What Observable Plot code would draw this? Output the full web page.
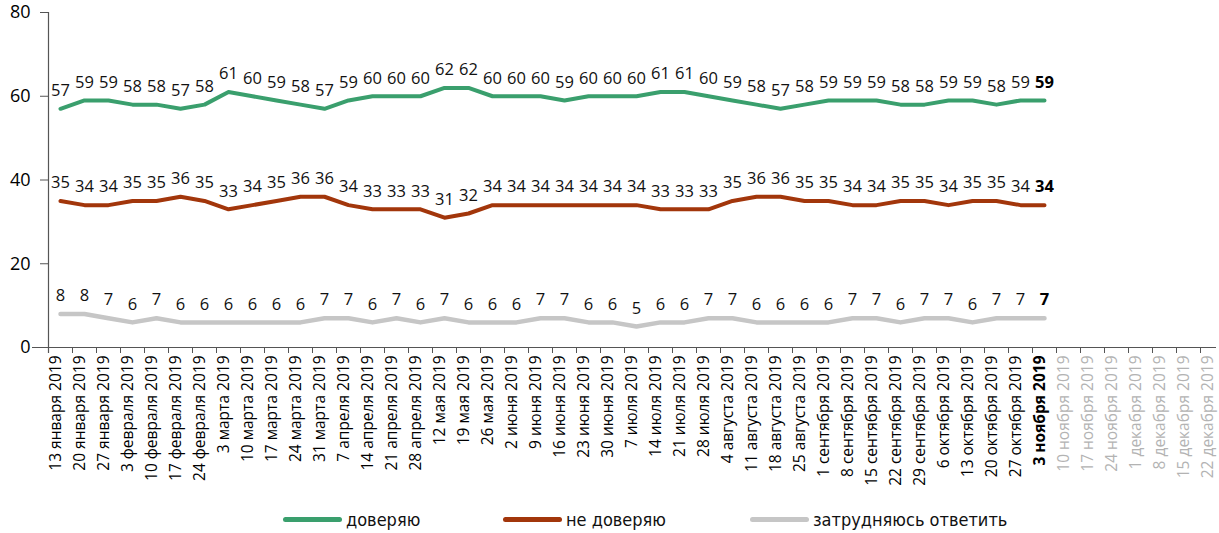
<!DOCTYPE html>
<html>
<head>
<meta charset="utf-8">
<script src="https://cdn.jsdelivr.net/npm/d3@7"></script>
<script src="https://cdn.jsdelivr.net/npm/@observablehq/plot@0.6"></script>
<style>
  html, body { margin: 0; padding: 0; background: #fff; }
  #chart { position: relative; width: 1219px; }
  #legend { position: relative; width: 1219px; height: 33px; font-family: "DejaVu Sans Condensed", "Liberation Sans Narrow", sans-serif; font-size: 18px; color: #111; }
  .item { position: absolute; top: 2px; height: 34px; display: flex; align-items: center; }
  .sw { width: 59px; height: 5px; border-radius: 3px; margin-right: 4px; }
</style>
</head>
<body>
<div id="chart"></div>
<div id="legend"></div>
<script>
const dates = [
  "13 января 2019","20 января 2019","27 января 2019","3 февраля 2019","10 февраля 2019","17 февраля 2019","24 февраля 2019",
  "3 марта 2019","10 марта 2019","17 марта 2019","24 марта 2019","31 марта 2019",
  "7 апреля 2019","14 апреля 2019","21 апреля 2019","28 апреля 2019",
  "12 мая 2019","19 мая 2019","26 мая 2019",
  "2 июня 2019","9 июня 2019","16 июня 2019","23 июня 2019","30 июня 2019",
  "7 июля 2019","14 июля 2019","21 июля 2019","28 июля 2019",
  "4 августа 2019","11 августа 2019","18 августа 2019","25 августа 2019",
  "1 сентября 2019","8 сентября 2019","15 сентября 2019","22 сентября 2019","29 сентября 2019",
  "6 октября 2019","13 октября 2019","20 октября 2019","27 октября 2019",
  "3 ноября 2019","10 ноября 2019","17 ноября 2019","24 ноября 2019",
  "1 декабря 2019","8 декабря 2019","15 декабря 2019","22 декабря 2019"
];
const trust    = [57,59,59,58,58,57,58,61,60,59,58,57,59,60,60,60,62,62,60,60,60,59,60,60,60,61,61,60,59,58,57,58,59,59,59,58,58,59,59,58,59,59];
const distrust = [35,34,34,35,35,36,35,33,34,35,36,36,34,33,33,33,31,32,34,34,34,34,34,34,34,33,33,33,35,36,36,35,35,34,34,35,35,34,35,35,34,34];
const unsure   = [8,8,7,6,7,6,6,6,6,6,6,7,7,6,7,6,7,6,6,6,7,7,6,6,5,6,6,7,7,6,6,6,6,7,7,6,7,7,6,7,7,7];
const yTicks = [0,20,40,60,80];
const seriesNames = ["доверяю","не доверяю","затрудняюсь ответить"];
const seriesColors = ["#3a9f6d","#a2360b","#c6c6c6"];

const nData = trust.length;
const lastDate = dates[nData - 1];
const toRows = (arr, s) => arr.map((v, i) => ({date: dates[i], value: v, series: s, last: i === nData - 1}));
const rowsT = toRows(trust, seriesNames[0]);
const rowsD = toRows(distrust, seriesNames[1]);
const rowsU = toRows(unsure, seriesNames[2]);
const allRows = [...rowsT, ...rowsD, ...rowsU];

const left = 48, right = 1224;
const step = (right - left) / dates.length;
const frameH = 500 - 12 - 153;

const labelFont = "'Open Sans', 'Noto Sans', sans-serif";

const plot = Plot.plot({
  width: 1219,
  height: 500,
  marginLeft: left,
  marginRight: 1219 - right,
  marginTop: 12,
  marginBottom: 153,
  style: {fontFamily: labelFont, color: "#000", background: "#fff", overflow: "visible"},
  x: {type: "point", domain: dates, padding: 0.5, axis: null},
  y: {domain: [0, 80], axis: null},
  marks: [
    Plot.axisY({ticks: yTicks, tickSize: 8, tickPadding: 10, fontSize: 18, stroke: "#555", label: null, fill: "#000"}),
    Plot.ruleY([0], {stroke: "#555", strokeWidth: 1.2, dx: -8, insetLeft: -8}),
    Plot.ruleX([dates[0]], {dx: -step / 2, stroke: "#555", strokeWidth: 1.2, insetBottom: -6}),
    Plot.ruleX(dates.slice(1), {dx: -step / 2, stroke: "#555", strokeWidth: 1, insetTop: frameH, insetBottom: -6}),
    Plot.line(rowsU, {x: "date", y: "value", stroke: seriesColors[2], strokeWidth: 4.5, strokeLinejoin: "round", strokeLinecap: "round"}),
    Plot.line(rowsD, {x: "date", y: "value", stroke: seriesColors[1], strokeWidth: 4, strokeLinejoin: "round", strokeLinecap: "round"}),
    Plot.line(rowsT, {x: "date", y: "value", stroke: seriesColors[0], strokeWidth: 4, strokeLinejoin: "round", strokeLinecap: "round"}),
    Plot.text(allRows.filter(d => !d.last), {x: "date", y: "value", text: d => String(d.value), dy: -18, fontSize: 16.5, fill: "#111"}),
    Plot.text(allRows.filter(d => d.last), {x: "date", y: "value", text: d => String(d.value), dy: -18, fontSize: 16.5, fontWeight: "bold", fill: "#000"}),
    Plot.text(dates.slice(0, nData - 1), {x: d => d, text: d => d, frameAnchor: "bottom", rotate: -90, textAnchor: "end", dy: 8, fontSize: 15.5, fill: "#000"}),
    Plot.text([lastDate], {x: d => d, text: d => d, frameAnchor: "bottom", rotate: -90, textAnchor: "end", dy: 8, fontSize: 15.5, fontWeight: "bold", fill: "#000"}),
    Plot.text(dates.slice(nData), {x: d => d, text: d => d, frameAnchor: "bottom", rotate: -90, textAnchor: "end", dy: 8, fontSize: 15.5, fill: "#b3b3b3"})
  ]
});
document.getElementById("chart").appendChild(plot);

const legendPos = [283, 503, 750];
const legend = document.getElementById("legend");
seriesNames.forEach((name, i) => {
  const item = document.createElement("div");
  item.className = "item";
  item.style.left = legendPos[i] + "px";
  const sw = document.createElement("div");
  sw.className = "sw";
  sw.style.background = seriesColors[i];
  const t = document.createElement("span");
  t.textContent = name;
  item.appendChild(sw);
  item.appendChild(t);
  legend.appendChild(item);
});
</script>
</body>
</html>
